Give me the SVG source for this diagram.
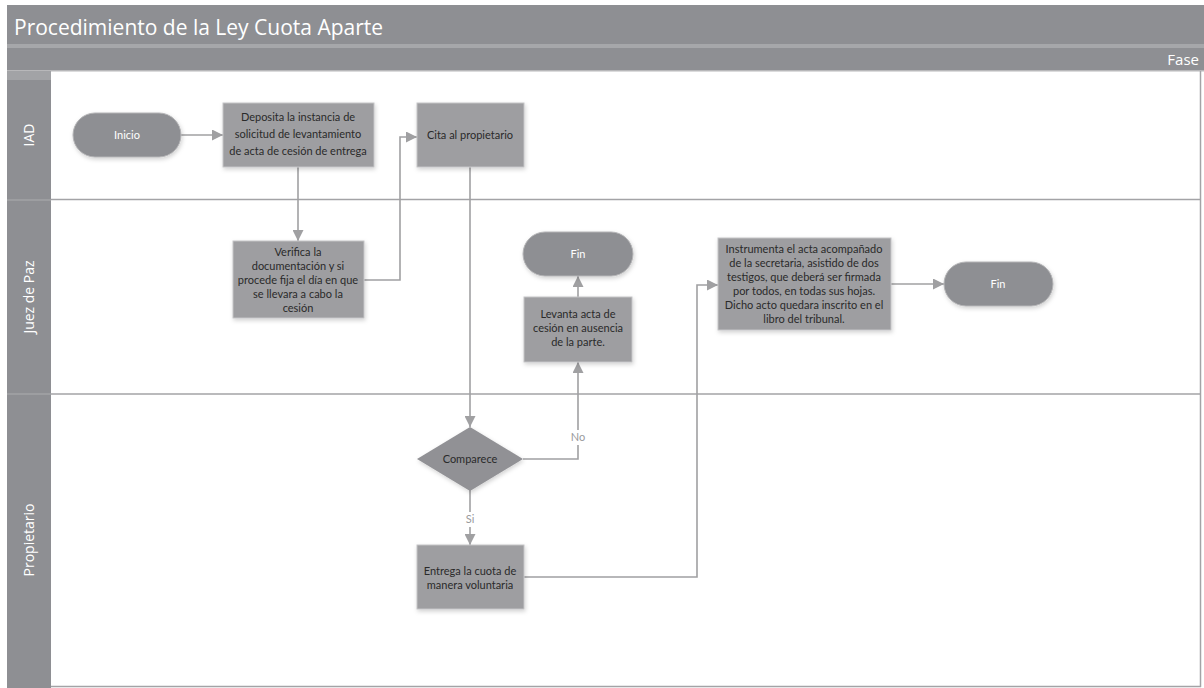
<svg xmlns="http://www.w3.org/2000/svg" width="1204" height="688" viewBox="0 0 1204 688">
<style>
.bar{fill:#8e8f93}
.lane{fill:#8e8f93}
.sep{stroke:#a3a3a6;stroke-width:1.5;fill:none}
.proc{fill:#9e9ea1;stroke:#c4c4c6;stroke-width:1}
.term{fill:#8e8f93;stroke:#b4b4b6;stroke-width:1}
.dec{fill:#919195}
.tw{font-family:"Open Sans","Liberation Sans",sans-serif;fill:#ffffff}
.tb{font-family:Lato,"Liberation Sans",sans-serif;font-size:11px;fill:#2a2a2a;text-anchor:middle}
.tt{font-family:Lato,"Liberation Sans",sans-serif;font-size:11px;fill:#ffffff;text-anchor:middle}
.conn{stroke:#a0a0a2;stroke-width:1.6;fill:none}
.lbl{font-family:Lato,"Liberation Sans",sans-serif;font-size:11px;fill:#9a9a9c;text-anchor:middle}
</style>
<defs>
<marker id="arrL" viewBox="0 0 10 10" refX="10" refY="5" markerWidth="11" markerHeight="11" markerUnits="userSpaceOnUse" orient="auto">
<path d="M0,0 L10,5 L0,10 z" fill="#a0a0a2"/>
</marker>
<filter id="sh" x="-10%" y="-10%" width="130%" height="140%">
<feDropShadow dx="1" dy="2" stdDeviation="2" flood-color="#000" flood-opacity="0.18"/>
</filter>
</defs>

<g id="frame">
<rect x="0" y="0" width="1204" height="688" fill="#ffffff"/>
<rect class="bar" x="7" y="5" width="1197" height="39"/>
<rect x="7" y="44" width="1197" height="4" fill="#a6a7aa"/>
<rect class="bar" x="7" y="48" width="1197" height="22"/>
<rect x="7" y="70" width="1197" height="1.5" fill="#b8b8ba"/>
<text class="tw" x="14" y="35" font-size="21">Procedimiento de la Ley Cuota Aparte</text>
<text class="tw" x="1199" y="65" font-size="15" text-anchor="end">Fase</text>
<rect class="lane" x="7" y="71" width="44" height="617"/>
<rect x="7" y="71" width="44" height="9" fill="#a2a3a6"/>
<line x1="7" y1="200" x2="51" y2="200" stroke="#a2a3a6" stroke-width="1.5"/>
<line x1="7" y1="394" x2="51" y2="394" stroke="#a2a3a6" stroke-width="1.5"/>
<line class="sep" x1="51" y1="199.5" x2="1201" y2="199.5"/>
<line class="sep" x1="51" y1="394" x2="1201" y2="394"/>
<line class="sep" x1="51" y1="686.5" x2="1201" y2="686.5"/>
<line class="sep" x1="1200.5" y1="71" x2="1200.5" y2="687"/>
<text class="tw" font-size="14" text-anchor="middle" transform="translate(34,135) rotate(-90)">IAD</text>
<text class="tw" font-size="14" text-anchor="middle" transform="translate(34,297) rotate(-90)">Juez de Paz</text>
<text class="tw" font-size="14" text-anchor="middle" transform="translate(34,540) rotate(-90)">Propietario</text>
</g>

<g id="connectors">
<path class="conn" d="M181,135 H223" marker-end="url(#arrL)"/>
<path class="conn" d="M298,167 V241" marker-end="url(#arrL)"/>
<path class="conn" d="M364,280 H400 V137 H417" marker-end="url(#arrL)"/>
<path class="conn" d="M470,167 V427" marker-end="url(#arrL)"/>
<path class="conn" d="M523,459 H578 V362" marker-end="url(#arrL)"/>
<path class="conn" d="M578,297 V276" marker-end="url(#arrL)"/>
<path class="conn" d="M470,490 V545" marker-end="url(#arrL)"/>
<path class="conn" d="M524,577 H697 V285 H718" marker-end="url(#arrL)"/>
<path class="conn" d="M891,284 H944" marker-end="url(#arrL)"/>
<rect x="568" y="430" width="20" height="15" fill="#ffffff"/>
<text class="lbl" x="578" y="441">No</text>
<rect x="462" y="512" width="16" height="15" fill="#ffffff"/>
<text class="lbl" x="470" y="523">Si</text>
</g>

<g id="inicio">
<rect class="term" x="73" y="113" width="108" height="44" rx="22" filter="url(#sh)"/>
<text class="tt" x="127" y="139">Inicio</text>
</g>

<g id="deposita">
<rect class="proc" x="223" y="103" width="151" height="64" filter="url(#sh)"/>
<text class="tb" x="298" y="121">Deposita la instancia de</text>
<text class="tb" x="298" y="138">solicitud de levantamiento</text>
<text class="tb" x="298" y="155">de acta de cesión de entrega</text>
</g>

<g id="cita">
<rect class="proc" x="417" y="103" width="107" height="64" filter="url(#sh)"/>
<text class="tb" x="470" y="139">Cita al propietario</text>
</g>

<g id="verifica">
<rect class="proc" x="233" y="241" width="131" height="77" filter="url(#sh)"/>
<text class="tb" x="298" y="256">Verifica la</text>
<text class="tb" x="298" y="270">documentación y si</text>
<text class="tb" x="298" y="284">procede fija el día en que</text>
<text class="tb" x="298" y="298">se llevara a cabo la</text>
<text class="tb" x="298" y="312">cesión</text>
</g>

<g id="fin1">
<rect class="term" x="523" y="232" width="110" height="44" rx="22" filter="url(#sh)"/>
<text class="tt" x="578" y="258">Fin</text>
</g>

<g id="levanta">
<rect class="proc" x="524" y="297" width="108" height="65" filter="url(#sh)"/>
<text class="tb" x="578" y="318">Levanta acta de</text>
<text class="tb" x="578" y="332">cesión en ausencia</text>
<text class="tb" x="578" y="346">de la parte.</text>
</g>

<g id="instrumenta">
<rect class="proc" x="718" y="238" width="173" height="92" filter="url(#sh)"/>
<text class="tb" x="804" y="253">Instrumenta el acta acompañado</text>
<text class="tb" x="804" y="267">de la secretaria, asistido de dos</text>
<text class="tb" x="804" y="281">testigos, que deberá ser firmada</text>
<text class="tb" x="804" y="295">por todos, en todas sus hojas.</text>
<text class="tb" x="804" y="309">Dicho acto quedara inscrito en el</text>
<text class="tb" x="804" y="323">libro del tribunal.</text>
</g>

<g id="fin2">
<rect class="term" x="944" y="262" width="109" height="44" rx="22" filter="url(#sh)"/>
<text class="tt" x="998" y="288">Fin</text>
</g>

<g id="comparece">
<polygon class="dec" points="470,427 523,459 470,491 417,459" filter="url(#sh)"/>
<text class="tb" x="470" y="463">Comparece</text>
</g>

<g id="entrega">
<rect class="proc" x="417" y="545" width="107" height="64" filter="url(#sh)"/>
<text class="tb" x="470" y="575">Entrega la cuota de</text>
<text class="tb" x="470" y="589">manera voluntaria</text>
</g>
</svg>
